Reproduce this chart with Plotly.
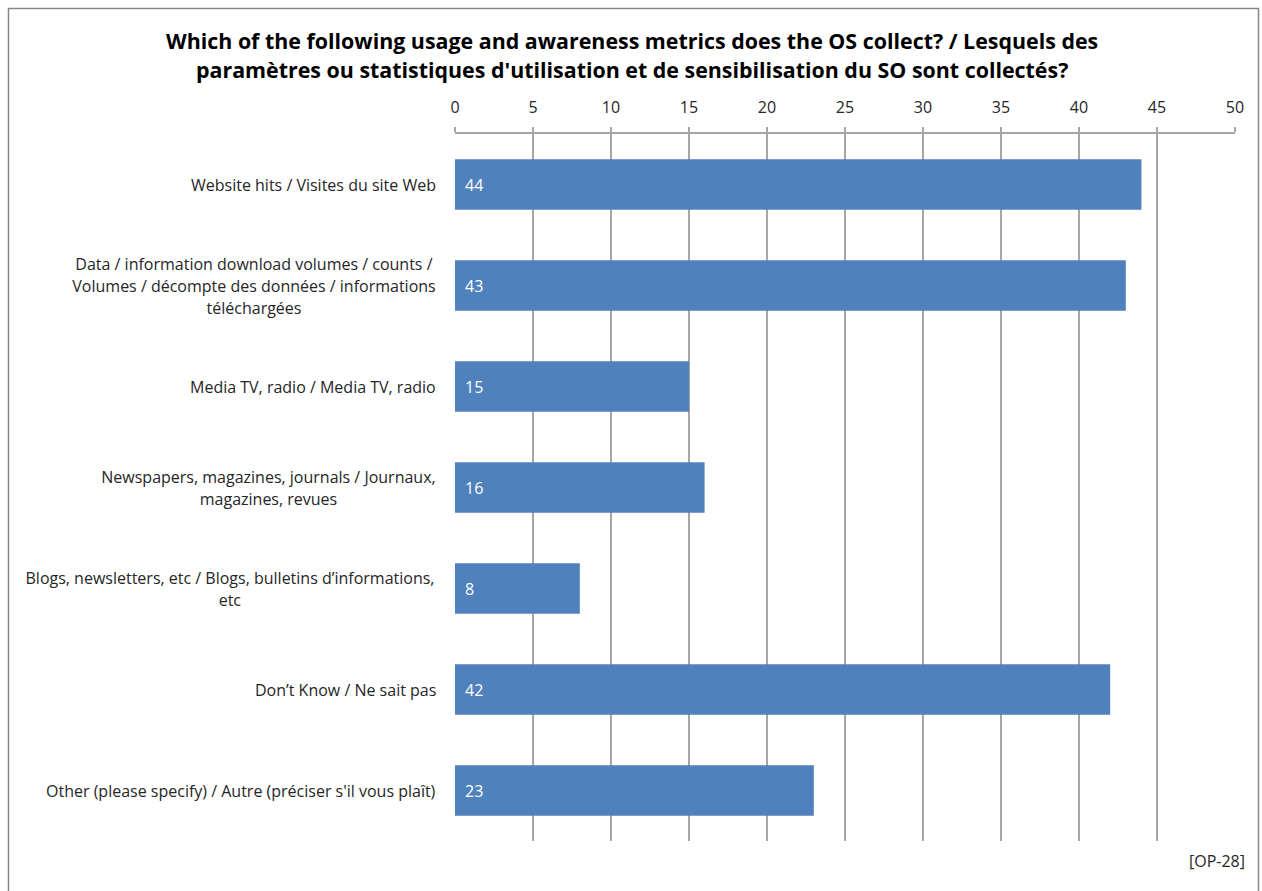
import plotly.graph_objects as go

# Survey responses: usage and awareness metrics collected by the OS
categories = [
    "Website hits / Visites du site Web",
    "Data / information download volumes / counts /<br>Volumes / décompte des données / informations<br>téléchargées",
    "Media TV, radio / Media TV, radio",
    "Newspapers, magazines, journals / Journaux,<br>magazines, revues",
    "Blogs, newsletters, etc / Blogs, bulletins d’informations,<br>etc",
    "Don’t Know / Ne sait pas",
    "Other (please specify) / Autre (préciser s'il vous plaît)",
]
counts = [44, 43, 15, 16, 8, 42, 23]
x_ticks = [0, 5, 10, 15, 20, 25, 30, 35, 40, 45, 50]

title_lines = [
    "Which of the following usage and awareness metrics does the OS collect? / Lesquels des",
    "paramètres ou statistiques d'utilisation et de sensibilisation du SO sont collectés?",
]
footnote = "[OP-28]"

W, H = 1262, 891
PL, PR, PT, PB = 455, 1235, 134, 841  # plot area in pixels
FONT = "Open Sans"
TEXT = "#262626"
GRID = "#a6a6a6"
BAR = "#4F81BD"
LABEL_RIGHT = 438      # right edge of the category label column
LINE_H = 22            # line pitch of wrapped category labels
# text box widths for wrapped labels (lines are centred inside the box)
BLOCK_W = {1: 364, 3: 335, 4: 412}

fig = go.Figure()
fig.add_trace(go.Bar(
    y=categories, x=counts, orientation="h",
    marker=dict(color=BAR, line=dict(width=0)),
    hoverinfo="x+y",
))

annotations = []
for k, cat in enumerate(categories):
    lines = cat.split("<br>")
    n = len(lines)
    for i, ln in enumerate(lines):
        off = ((n - 1) / 2 - i) * LINE_H
        ann = dict(
            x=0, y=cat, xref="x", yref="y", text=ln, showarrow=False,
            xanchor="right", yanchor="middle", xshift=-(PL - LABEL_RIGHT),
            yshift=off, font=dict(family=FONT, size=16, color=TEXT),
        )
        if n > 1:
            ann.update(width=BLOCK_W[k], align="center")
        annotations.append(ann)
# value labels inside the bars
for cat, v in zip(categories, counts):
    annotations.append(dict(
        x=0, y=cat, xref="x", yref="y", text=str(v), showarrow=False,
        xanchor="left", yanchor="middle", xshift=8,
        font=dict(family=FONT, size=16, color="white"),
    ))


def px_x(p):
    return (p - PL) / (PR - PL)


def px_y(p):
    return 1 - (p - PT) / (PB - PT)


# title
for i, ln in enumerate(title_lines):
    annotations.append(dict(
        x=px_x(632), y=px_y(40 + 30 * i),
        xref="paper", yref="paper", text="<b>" + ln + "</b>", showarrow=False,
        xanchor="center", yanchor="middle",
        font=dict(family=FONT, size=21.4, color="#000000"),
    ))
annotations.append(dict(
    x=px_x(1247), y=px_y(861),
    xref="paper", yref="paper", text=footnote, showarrow=False,
    xanchor="right", yanchor="middle",
    font=dict(family=FONT, size=16, color=TEXT),
))

# outer chart border
shapes = [dict(
    type="rect", xref="paper", yref="paper",
    x0=px_x(8.5), x1=px_x(1258.5), y0=px_y(900), y1=px_y(8.5),
    line=dict(color="#868686", width=1.5), fillcolor="rgba(0,0,0,0)", layer="below",
)]

fig.update_layout(
    width=W, height=H,
    margin=dict(l=PL, r=W - PR, t=PT, b=H - PB, pad=0),
    paper_bgcolor="white", plot_bgcolor="white",
    showlegend=False, bargap=0.5,
    annotations=annotations, shapes=shapes,
    font=dict(family=FONT, color=TEXT),
    xaxis=dict(
        side="top", range=[0, 50], tickvals=x_ticks,
        ticktext=[str(t) for t in x_ticks],
        showgrid=True, gridcolor=GRID, gridwidth=1.5,
        showline=True, linecolor=GRID, linewidth=1.5,
        ticks="outside", ticklen=5, tickcolor=GRID, tickwidth=1.5,
        ticklabelstandoff=8,
        tickfont=dict(family=FONT, size=16, color=TEXT),
        zeroline=False, fixedrange=True,
    ),
    yaxis=dict(
        autorange="reversed", showticklabels=False, showgrid=False,
        showline=False, zeroline=False, ticks="", fixedrange=True,
    ),
)

fig.write_html("out.html")
